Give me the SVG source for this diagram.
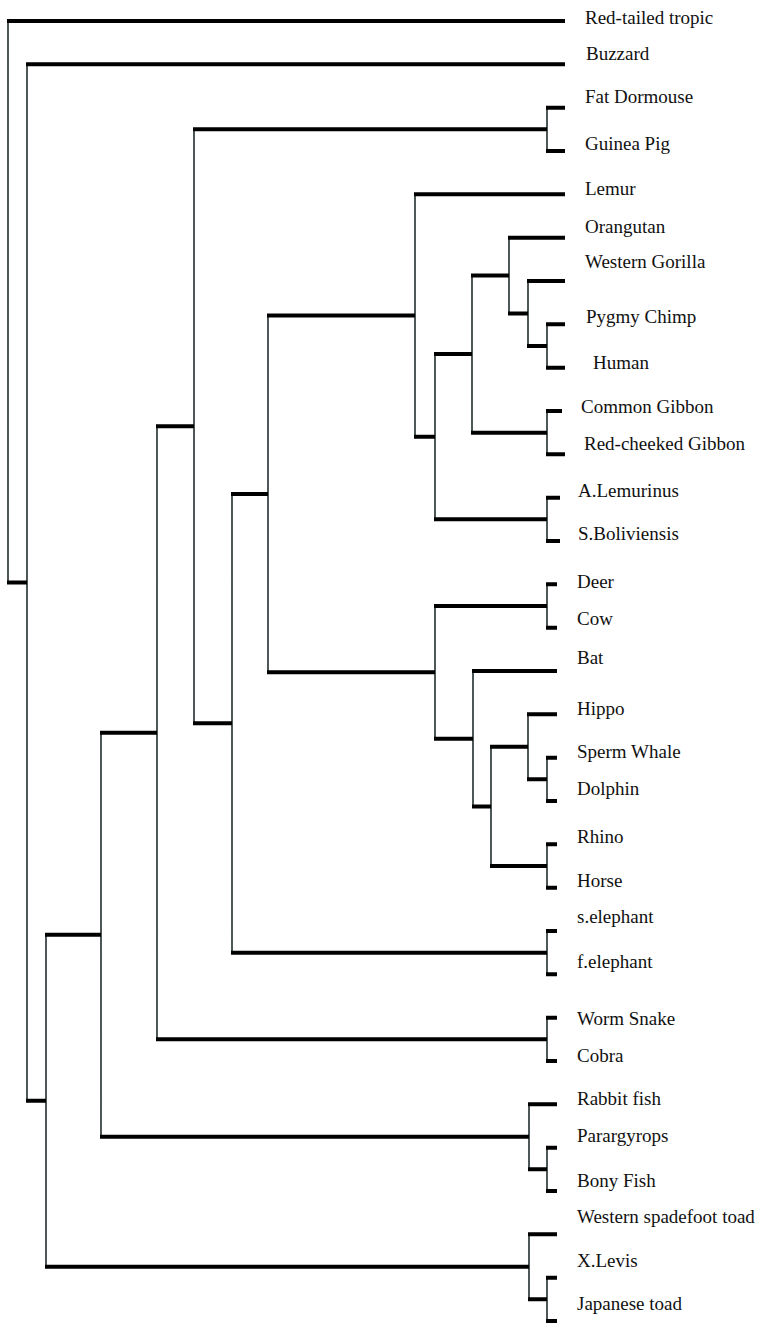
<svg xmlns="http://www.w3.org/2000/svg" width="757" height="1324" viewBox="0 0 757 1324">
<style>
.h{stroke:#000;stroke-width:4;fill:none;stroke-linecap:butt}
.v{stroke:#3c4646;stroke-width:1.8;fill:none}
.lbl{font-family:'Liberation Serif','DejaVu Serif','Times New Roman',serif;font-size:19px;fill:#111}
</style>
<rect width="757" height="1324" fill="#fff"/>
<g id="connectors">
<path class="v" d="M8 21V582.5 M27 64.3V1100.8 M46 934.8V1266.8 M101 732.8V1136.8 M157 426.3V1039.3 M194 129.3V723.3 M232 493.9V952.7 M268 315.5V672.3 M415 194.3V436.7 M435 354.1V519.3 M472 275.6V432.7 M509 237.7V313.5 M528 281V346 M547 324.3V367.7 M547 411V454.3 M547 497.7V541 M547 107.7V151 M435 606V738.7 M547 584.3V627.7 M473 671V806.4 M491 746.8V866 M528 714.3V779.3 M547 757.7V801 M547 844.3V887.7 M547 931V974.3 M547 1017.7V1061 M529 1104.3V1169.3 M547 1147.7V1191 M529 1234.3V1299.3 M547 1277.7V1321"/>
<path class="h" d="M7 21H565 M7 582.5H27 M26 64.3H565 M26 1100.8H46 M45 934.8H101 M45 1266.8H529 M100 732.8H157 M100 1136.8H529 M156 426.3H194 M156 1039.3H547 M193 129.3H547 M193 723.3H232 M231 493.9H268 M231 952.7H547 M267 315.5H415 M267 672.3H435 M414 194.3H565 M414 436.7H435 M434 354.1H472 M434 519.3H547 M471 275.6H509 M471 432.7H547 M508 237.7H565 M508 313.5H528 M527 281H565 M527 346H547 M546 324.3H565 M546 367.7H565 M546 411H562 M546 454.3H565 M546 497.7H560 M546 541H560 M546 107.7H565 M546 151H565 M434 606H547 M434 738.7H473 M546 584.3H557 M546 627.7H557 M472 671H557 M472 806.4H491 M490 746.8H528 M490 866H547 M527 714.3H557 M527 779.3H547 M546 757.7H557 M546 801H557 M546 844.3H557 M546 887.7H557 M546 931H557 M546 974.3H557 M546 1017.7H557 M546 1061H557 M528 1104.3H557 M528 1169.3H547 M546 1147.7H557 M546 1191H557 M528 1234.3H557 M528 1299.3H547 M546 1277.7H557 M546 1321H557"/>
</g>
<g class="lbl" font-family="Liberation Serif, DejaVu Serif, serif" font-size="19">
<g id="leaf-red-tailed-tropic"><text x="585" y="24">Red-tailed tropic</text></g>
<g id="leaf-buzzard"><text x="586" y="60">Buzzard</text></g>
<g id="leaf-fat-dormouse"><text x="585" y="103">Fat Dormouse</text></g>
<g id="leaf-guinea-pig"><text x="585" y="150">Guinea Pig</text></g>
<g id="leaf-lemur"><text x="585" y="195">Lemur</text></g>
<g id="leaf-orangutan"><text x="585" y="233">Orangutan</text></g>
<g id="leaf-western-gorilla"><text x="585" y="268">Western Gorilla</text></g>
<g id="leaf-pygmy-chimp"><text x="586" y="323">Pygmy Chimp</text></g>
<g id="leaf-human"><text x="593" y="369">Human</text></g>
<g id="leaf-common-gibbon"><text x="581" y="413">Common Gibbon</text></g>
<g id="leaf-red-cheeked-gibbon"><text x="584" y="450">Red-cheeked Gibbon</text></g>
<g id="leaf-a-lemurinus"><text x="578" y="497">A.Lemurinus</text></g>
<g id="leaf-s-boliviensis"><text x="578" y="540">S.Boliviensis</text></g>
<g id="leaf-deer"><text x="577" y="588">Deer</text></g>
<g id="leaf-cow"><text x="577" y="625">Cow</text></g>
<g id="leaf-bat"><text x="577" y="664">Bat</text></g>
<g id="leaf-hippo"><text x="577" y="715">Hippo</text></g>
<g id="leaf-sperm-whale"><text x="577" y="758">Sperm Whale</text></g>
<g id="leaf-dolphin"><text x="577" y="795">Dolphin</text></g>
<g id="leaf-rhino"><text x="577" y="843">Rhino</text></g>
<g id="leaf-horse"><text x="577" y="887">Horse</text></g>
<g id="leaf-s-elephant"><text x="577" y="923">s.elephant</text></g>
<g id="leaf-f-elephant"><text x="577" y="968">f.elephant</text></g>
<g id="leaf-worm-snake"><text x="577" y="1025">Worm Snake</text></g>
<g id="leaf-cobra"><text x="577" y="1062">Cobra</text></g>
<g id="leaf-rabbit-fish"><text x="577" y="1105">Rabbit fish</text></g>
<g id="leaf-parargyrops"><text x="577" y="1142">Parargyrops</text></g>
<g id="leaf-bony-fish"><text x="577" y="1187">Bony Fish</text></g>
<g id="leaf-western-spadefoot-toad"><text x="577" y="1223">Western spadefoot toad</text></g>
<g id="leaf-x-levis"><text x="577" y="1267">X.Levis</text></g>
<g id="leaf-japanese-toad"><text x="577" y="1310">Japanese toad</text></g>
</g>
</svg>
